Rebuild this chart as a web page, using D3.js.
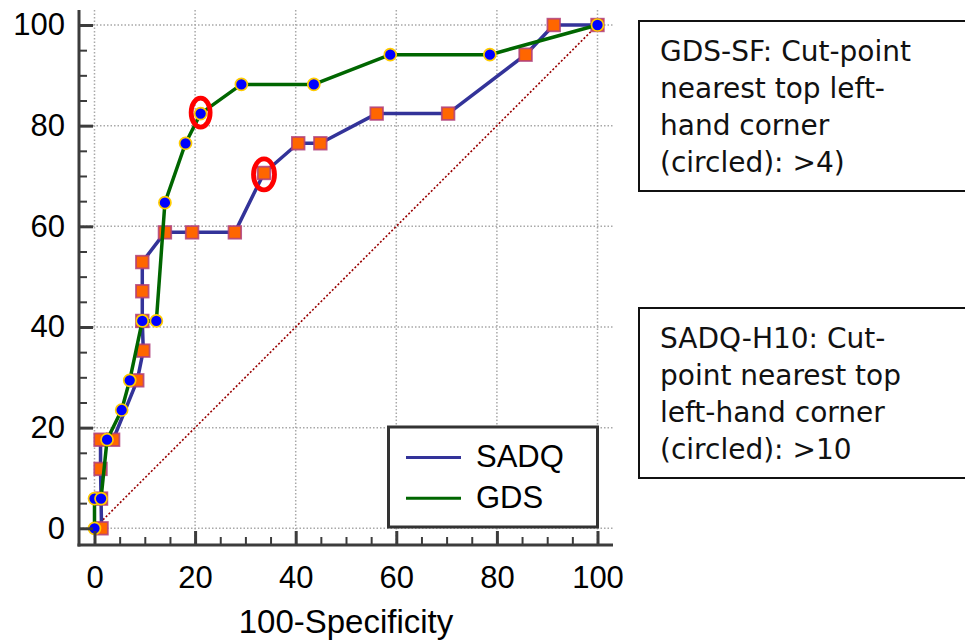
<!DOCTYPE html>
<html><head><meta charset="utf-8">
<script src="https://cdn.jsdelivr.net/npm/d3@7"></script>
<style>body{margin:0;background:#fff} svg{display:block}</style>
</head><body><svg id="c" width="965" height="643"></svg>
<script>
// ---- data ----
const seriesNames = ["SADQ", "GDS"];
const sadqFpr  = [1.4, 1.3, 1.2, 1.2, 3.7, 8.5, 9.7, 9.5, 9.5, 9.5, 14.0, 19.4, 27.9, 33.7, 40.5, 44.9, 56.1, 70.3, 85.7, 91.3, 100];
const sadqSens = [0, 5.9, 11.8, 17.6, 17.6, 29.4, 35.3, 41.2, 47.1, 52.9, 58.8, 58.8, 58.8, 70.6, 76.5, 76.5, 82.4, 82.4, 94.1, 100, 100];
const gdsFpr   = [0, 0, 1.3, 2.5, 5.4, 7.0, 9.5, 12.3, 14.0, 18.1, 21.1, 29.2, 43.6, 58.8, 78.6, 100];
const gdsSens  = [0, 5.9, 5.9, 17.6, 23.5, 29.4, 41.2, 41.2, 64.7, 76.5, 82.4, 88.2, 88.2, 94.1, 94.1, 100];
const sadqCircledIndex = 13;
const gdsCircledIndex = 10;
const diagonal = [0, 100];
const majorTicks = [0, 20, 40, 60, 80, 100];
const minorTicks = [5, 10, 15, 25, 30, 35, 45, 50, 55, 65, 70, 75, 85, 90, 95];
const xTitle = "100-Specificity";
const note1 = ["GDS-SF: Cut-point", "nearest top left-", "hand corner", "(circled): >4)"];
const note2 = ["SADQ-H10: Cut-", "point nearest top", "left-hand corner", "(circled): >10"];

// ---- layout ----
const svg = d3.select("#c");
const L = 79, R = 613, T = 10, B = 545;
const x = d3.scaleLinear().domain([0, 100]).range([94.5, 597.5]);
const y = d3.scaleLinear().domain([0, 100]).range([528.3, 25]);
const axisColor = "#3c3c3c";
const arial = "'Liberation Sans', Arial, sans-serif";

// grid
const grid = svg.append("g").attr("stroke", "#a8a8a8").attr("stroke-width", 1.5).attr("stroke-dasharray", "1.5,2");
grid.selectAll(".gv").data(majorTicks).join("line")
  .attr("x1", d => x(d)).attr("x2", d => x(d)).attr("y1", T).attr("y2", B);
grid.selectAll(".gh").data(majorTicks).join("line")
  .attr("y1", d => y(d)).attr("y2", d => y(d)).attr("x1", L).attr("x2", R);

// diagonal
svg.append("line")
  .attr("x1", x(diagonal[0])).attr("y1", y(diagonal[0]))
  .attr("x2", x(diagonal[1])).attr("y2", y(diagonal[1]))
  .attr("stroke", "#990000").attr("stroke-width", 1.6).attr("stroke-dasharray", "2,2");

// series
const sadq = sadqFpr.map((v, i) => [v, sadqSens[i]]);
const gds = gdsFpr.map((v, i) => [v, gdsSens[i]]);
const line = d3.line().x(d => x(d[0])).y(d => y(d[1]));

svg.append("path").datum(sadq).attr("d", line).attr("fill", "none")
  .attr("stroke", "#333399").attr("stroke-width", 3.5).attr("stroke-linejoin", "round");
svg.append("g").selectAll("rect").data(sadq).join("rect")
  .attr("x", d => x(d[0]) - 6.3).attr("y", d => y(d[1]) - 6.3)
  .attr("width", 12.6).attr("height", 12.6)
  .attr("fill", "#ff6600").attr("stroke", "#b0407a").attr("stroke-opacity", 0.85).attr("stroke-width", 1.8);

svg.append("path").datum(gds).attr("d", line).attr("fill", "none")
  .attr("stroke", "#006600").attr("stroke-width", 3.5).attr("stroke-linejoin", "round");
svg.append("g").selectAll("circle").data(gds).join("circle")
  .attr("cx", d => x(d[0])).attr("cy", d => y(d[1])).attr("r", 6)
  .attr("fill", "#0000ff").attr("stroke", "#ffcc00").attr("stroke-width", 1.7);

// circled cut-points
svg.append("ellipse").attr("cx", x(gds[gdsCircledIndex][0])).attr("cy", y(gds[gdsCircledIndex][1]) - 1)
  .attr("rx", 9.5).attr("ry", 14.5).attr("fill", "none").attr("stroke", "#ff0000").attr("stroke-width", 4.8);
svg.append("ellipse").attr("cx", x(sadq[sadqCircledIndex][0])).attr("cy", y(sadq[sadqCircledIndex][1]) + 1.5)
  .attr("rx", 10.5).attr("ry", 15.5).attr("fill", "none").attr("stroke", "#ff0000").attr("stroke-width", 4.8);

// axes
function styleAxis(g, w) {
  g.select(".domain").remove();
  g.selectAll(".tick line").attr("stroke", axisColor).attr("stroke-width", w);
  g.selectAll(".tick text").attr("font-family", arial).attr("font-size", 31).attr("fill", "#000");
}
const yMinor = svg.append("g").attr("transform", `translate(${L},0)`)
  .call(d3.axisLeft(y).tickValues(minorTicks).tickSize(-8).tickFormat(""));
styleAxis(yMinor, 2);
const yMajor = svg.append("g").attr("transform", `translate(${L},0)`)
  .call(d3.axisLeft(y).tickValues(majorTicks).tickSize(-14).tickPadding(14));
styleAxis(yMajor, 3);
const xMinor = svg.append("g").attr("transform", `translate(0,${B})`)
  .call(d3.axisBottom(x).tickValues(minorTicks).tickSize(-8).tickFormat(""));
styleAxis(xMinor, 2);
const xMajor = svg.append("g").attr("transform", `translate(0,${B})`)
  .call(d3.axisBottom(x).tickValues(majorTicks).tickSize(-14).tickPadding(21));
styleAxis(xMajor, 3);
svg.append("line").attr("x1", L).attr("x2", L).attr("y1", T).attr("y2", B + 1.5)
  .attr("stroke", axisColor).attr("stroke-width", 3);
svg.append("line").attr("x1", L - 1.5).attr("x2", R).attr("y1", B).attr("y2", B)
  .attr("stroke", axisColor).attr("stroke-width", 3);

svg.append("text").attr("x", 346).attr("y", 633).attr("text-anchor", "middle")
  .attr("font-family", arial).attr("font-size", 33).text(xTitle);

// legend
const lg = svg.append("g");
lg.append("rect").attr("x", 388.5).attr("y", 427).attr("width", 209).attr("height", 100)
  .attr("fill", "#fff").attr("stroke", "#333").attr("stroke-width", 3);
const legColors = ["#333399", "#006600"];
seriesNames.forEach((n, i) => {
  const ly = 457.5 + i * 40.8;
  lg.append("line").attr("x1", 406).attr("x2", 461).attr("y1", ly).attr("y2", ly)
    .attr("stroke", legColors[i]).attr("stroke-width", 3);
  lg.append("text").attr("x", 476).attr("y", ly + 9.5).attr("font-family", arial)
    .attr("font-size", 31).text(n);
});

// notes
function note(lines, top) {
  svg.append("rect").attr("x", 639).attr("y", top).attr("width", 340).attr("height", 170)
    .attr("fill", "#fff").attr("stroke", "#111").attr("stroke-width", 2);
  lines.forEach((t, i) => {
    svg.append("text").attr("x", 660).attr("y", top + 40 + i * 37)
      .attr("font-family", "'DejaVu Sans', Verdana, sans-serif").attr("font-size", 28)
      .attr("fill", "#111").text(t);
  });
}
note(note1, 21);
note(note2, 308);
</script>
</body></html>
